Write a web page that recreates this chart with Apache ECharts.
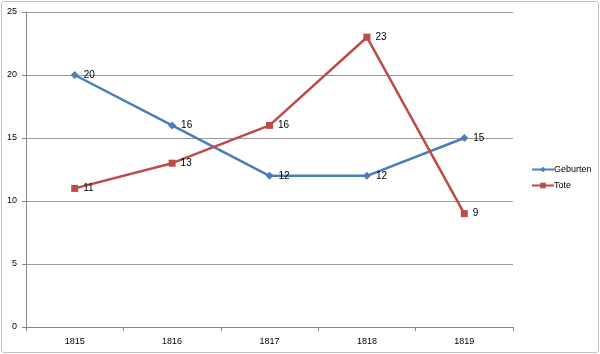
<!DOCTYPE html>
<html><head><meta charset="utf-8">
<script src="https://cdn.jsdelivr.net/npm/echarts@6/dist/echarts.min.js"></script>
<style>html,body{margin:0;padding:0;background:#fff}#c{width:600px;height:354px}
#frame{position:absolute;left:1px;top:1px;width:596px;height:350px;border:1px solid #bfbfbf;border-radius:3px;pointer-events:none}</style>
</head><body>
<div id="c"></div><div id="frame"></div>
<script>
const years = ['1815','1816','1817','1818','1819'];
const geburten = [20,16,12,12,15];
const tote = [11,13,16,23,9];
const seriesNames = ['Geburten','Tote'];

const FONT = 'Liberation Sans';
const chart = echarts.init(document.getElementById('c'), null, {renderer:'canvas'});
const lbl = {show:true, position:'right', distance:5, color:'#000', fontSize:10, fontFamily:FONT};
chart.setOption({
  animation:false,
  backgroundColor:'#fff',
  grid:{left:26, right:87, top:12, bottom:27},
  legend:{
    orient:'vertical', left:526, top:160, itemGap:7, itemWidth:22, itemHeight:7,
    textStyle:{fontSize:9, fontFamily:FONT, color:'#000', padding:[0,0,0,-5]},
    data:seriesNames
  },
  xAxis:{
    type:'category', data:years, boundaryGap:true,
    axisLine:{lineStyle:{color:'#868686', width:1}},
    axisTick:{show:true, length:4, lineStyle:{color:'#868686'}},
    axisLabel:{color:'#000', fontSize:9, fontFamily:FONT, margin:10}
  },
  yAxis:{
    type:'value', min:0, max:25, interval:5,
    axisLine:{show:true, lineStyle:{color:'#868686'}},
    axisTick:{show:true, length:4, lineStyle:{color:'#868686'}},
    splitLine:{lineStyle:{color:'#9a9a9a', width:1}},
    axisLabel:{color:'#000', fontSize:9, fontFamily:FONT, margin:9}
  },
  series:[
    {name:seriesNames[0], type:'line', data:geburten, symbol:'diamond', symbolSize:8,
     itemStyle:{color:'#4a7ebb'}, lineStyle:{width:2.5, color:'#4a7ebb'}, label:lbl},
    {name:seriesNames[1], type:'line', data:tote, symbol:'rect', symbolSize:7,
     itemStyle:{color:'#be4b48'}, lineStyle:{width:2.5, color:'#be4b48'}, label:lbl}
  ]
});
</script>
</body></html>
